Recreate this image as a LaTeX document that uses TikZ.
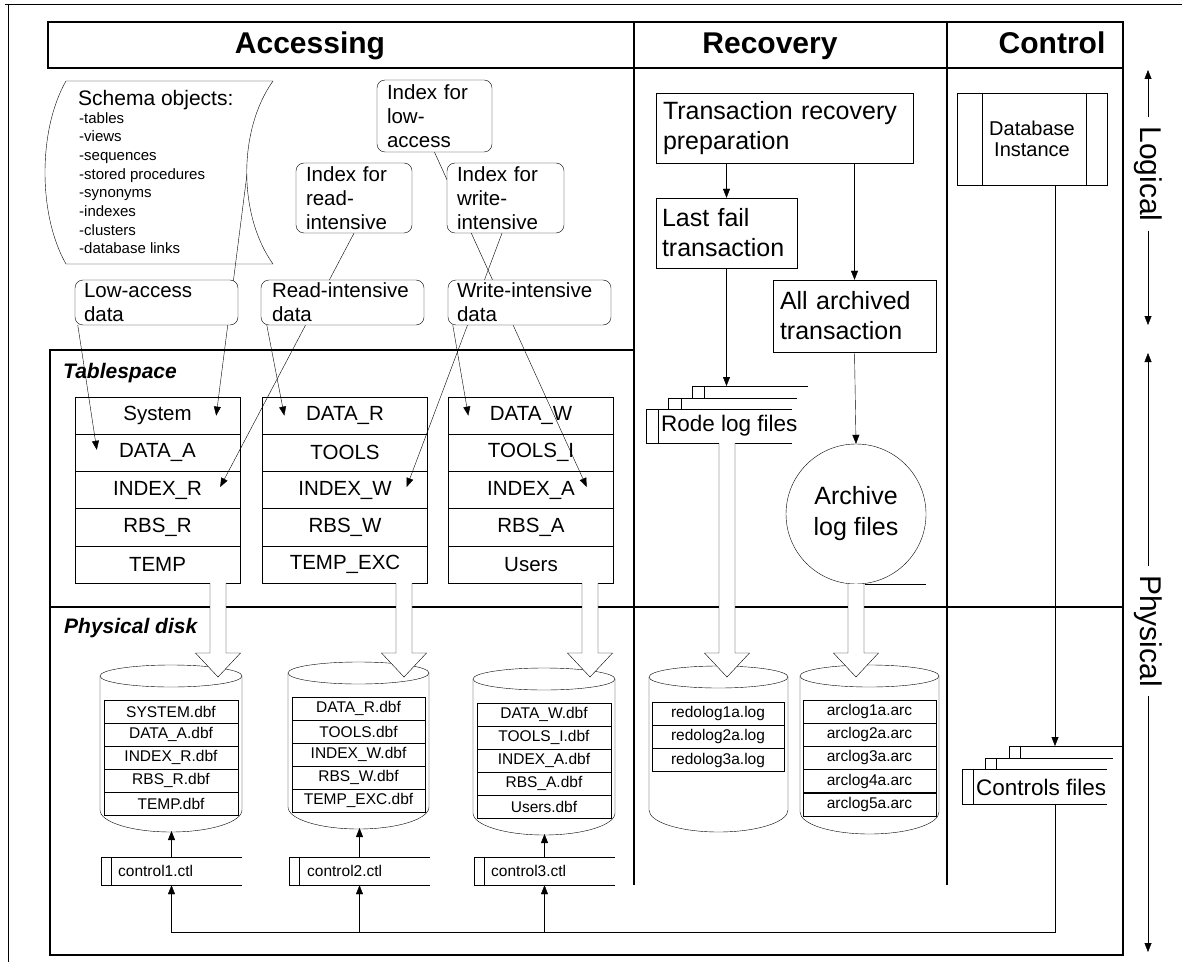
\documentclass[tikz,border=0pt]{standalone}
\usepackage{fontspec}
\setmainfont{Liberation Sans}
\usetikzlibrary{arrows.meta,calc}
\newcommand\fsz[2]{\fontsize{#1}{#2}\selectfont}
\pgfdeclarelayer{paper}
\pgfdeclarelayer{tables}
\pgfdeclarelayer{wires}
\pgfsetlayers{paper,tables,wires,main}

% wide hollow arrow: centre x, top y, tip y
\newcommand\hollowarrow[3]{%
  \draw[fill=white,line join=miter] (#1-8,#2) -- (#1-8,#3-24) -- (#1-22.5,#3-24)
    -- (#1,#3) -- (#1+22.5,#3-24) -- (#1+8,#3-24) -- (#1+8,#2);}
% disk cylinder: centre x, x radius, top centre y, side bottom y, bottom radius
\newcommand\dbcylinder[5]{%
  \draw[fill=white] (#1-#2,#3) -- (#1-#2,#4)
    arc[start angle=180,end angle=0,x radius=#2,y radius=#5] -- (#1+#2,#3);
  \draw[fill=white] (#1,#3) ellipse[x radius=#2,y radius=11];}
% data store open on the right
\newcommand\storeoutline[2]{%
  \draw (#1.north east) -- (#1.north west) -- (#1.south west) -- (#1.south east);
  \draw ([xshift=#2]#1.north west) -- ([xshift=#2]#1.south west);}

\begin{document}
\begin{tikzpicture}[x=1pt,y=-1pt,line width=1.5pt,
  arr/.style={-{Triangle[length=9pt,width=7pt]}},
  framel/.style={line width=1.8pt},
  rbox/.style={draw,rounded corners=8pt,fill=white,inner sep=0pt,align=left,font=\fsz{20.5}{24}},
  pbox/.style={draw,fill=white,inner sep=0pt,align=left,font=\fsz{25}{30}},
  tsrow/.style={draw,fill=white,minimum width=165pt,minimum height=37.2pt,inner sep=0pt,font=\fsz{20.5}{24}},
  crow/.style={draw,fill=white,minimum width=134pt,minimum height=23.1pt,inner sep=0pt,font=\fsz{15.5}{18}},
  hdr/.style={font=\fsz{30}{36}\bfseries,inner sep=0pt,anchor=base},
  sect/.style={font=\fsz{21}{25}\bfseries\itshape,anchor=west,inner sep=0pt},
  axislbl/.style={font=\fsz{30}{36},rotate=-90,inner sep=9pt},
  txt/.style={inner sep=0pt,anchor=west},
  store/.style={minimum width=141pt,minimum height=28pt,inner sep=0pt},
]
\useasboundingbox (0,0) rectangle (1182,965);
\begin{pgfonlayer}{paper}
\fill[white] (0,0) rectangle (1182,965);
\end{pgfonlayer}

% sheet edge
\draw[line width=1pt] (5,5) -- (1182,5);
\draw[line width=1pt] (8,5) -- (8,962);

% frame and columns
\draw[framel] (48,22) rectangle (1123,68);
\draw[framel] (634,22) -- (634,885);
\draw[framel] (947,22) -- (947,885);
\draw[framel] (1123,68) -- (1123,955) -- (50,955) -- (50,350) -- (634,350);
\draw[framel] (50,607) -- (1123,607);

\node[hdr] (hacc) at (310,53.5) {Accessing};
\node[hdr] (hrec) at (770,53.5) {Recovery};
\node[hdr] (hctl) at (1052,53.5) {Control};

\node[sect] (ts) at (63,373) {Tablespace};
\node[sect] (pd) at (64,628) {Physical disk};

% schema objects
\begin{pgfonlayer}{tables}
\draw[fill=white] (66,81) -- (273,81) .. controls (238,130) and (238,215) .. (273,264)
  -- (66,264) .. controls (38,215) and (38,130) .. (66,81) -- cycle;
\end{pgfonlayer}
\node[txt,font=\fsz{21}{25}] (schema) at (78,100) {Schema objects:};
\node[inner sep=0pt,anchor=north west,align=left,font=\fsz{15}{18.7}] (schemalist) at (79,112)
  {-tables\\-views\\-sequences\\-stored procedures\\-synonyms\\-indexes\\-clusters\\-database links};
\coordinate (schemaR) at (247,174);

% data and index groups
\node[rbox,minimum width=115pt,minimum height=72pt,text width=95pt] (idxlow) at (434.5,116) {Index for\\low-\\access};
\node[rbox,minimum width=116pt,minimum height=70pt,text width=96pt] (idxread) at (354,198) {Index for\\read-\\intensive};
\node[rbox,minimum width=117pt,minimum height=70pt,text width=97pt] (idxwrite) at (505.5,198) {Index for\\write-\\intensive};
\node[rbox,minimum width=163pt,minimum height=45pt,text width=145pt] (lowdata) at (156.5,302.5) {Low-access\\data};
\node[rbox,minimum width=163pt,minimum height=45pt,text width=141pt] (readdata) at (342.5,302.5) {Read-intensive\\data};
\node[rbox,minimum width=163pt,minimum height=45pt,text width=145pt] (writedata) at (529.5,302.5) {Write-intensive\\data};

% tablespaces
\begin{pgfonlayer}{tables}
\foreach \lab [count=\i from 0] in {System,DATA\_A,INDEX\_R,RBS\_R,TEMP}
  \node[tsrow] (t1r\i) at (157.5,415.6+37.2*\i) {\lab};
\foreach \lab [count=\i from 0] in {DATA\_R,TOOLS,INDEX\_W,RBS\_W,TEMP\_EXC}
  \node[tsrow] (t2r\i) at (345,415.6+37.2*\i) {\lab};
\foreach \lab [count=\i from 0] in {DATA\_W,TOOLS\_I,INDEX\_A,RBS\_A,Users}
  \node[tsrow] (t3r\i) at (531,415.6+37.2*\i) {\lab};
\end{pgfonlayer}

\begin{pgfonlayer}{wires}
\draw[arr] (schemaR) -- ([xshift=-24pt]t1r0.east);
\draw[arr] ([xshift=3pt]lowdata.south west) -- ([xshift=22pt,yshift=3pt]t1r1.west);
\draw[arr] (idxread.south) -- ([xshift=-20pt,yshift=3pt]t1r2.east);
\draw[arr] ([xshift=6pt]readdata.south west) -- ([xshift=22pt]t2r0.west);
\draw[arr] ([xshift=-3.5pt]idxwrite.south) -- ([xshift=-21pt,yshift=3pt]t2r2.east);
\draw[arr] ([xshift=5pt]writedata.south west) -- ([xshift=20pt]t3r0.west);
\draw[arr] (idxlow.south) -- ([xshift=-27pt,yshift=3pt]t3r2.east);
\end{pgfonlayer}

% recovery
\node[pbox,minimum width=257pt,minimum height=70pt,text width=243pt] (trprep) at (784.5,128) {Transaction recovery\\preparation};
\node[pbox,minimum width=141pt,minimum height=70pt,text width=129pt] (lastfail) at (726.5,233) {Last fail\\transaction};
\node[pbox,minimum width=163pt,minimum height=72pt,text width=149pt] (allarch) at (854.5,316) {All archived\\transaction};
\draw[arr] (lastfail.north |- trprep.south) -- (lastfail.north);
\draw[arr] (allarch.north |- trprep.south) -- (allarch.north);

\node[minimum width=146pt,minimum height=34pt,inner sep=0pt] (rode) at (719,426) {};
\storeoutline{rode}{12pt}
\draw (797,398) -- (668,398) -- (668,409) (681,398) -- (681,409);
\draw (808,386) -- (692,386) -- (692,398) (704,386) -- (704,398);
\node[txt,font=\fsz{22.5}{26}] (rodetxt) at (661,426) {Rode log files};
\coordinate (rodetop) at (726.5,386);
\draw[arr] (lastfail.south) -- (rodetop);

\node[draw,circle,fill=white,minimum size=140pt,inner sep=0pt,align=center,font=\fsz{25}{31}] (archive) at (856,514) {Archive\\log files};
\draw[arr] (allarch.south) -- (archive.north);
\draw ([xshift=9pt]archive.south) -- ([xshift=70pt]archive.south);

% control
\node[draw,minimum width=150pt,minimum height=92pt,inner sep=0pt,align=center,font=\fsz{20}{21}] (dbinst) at (1032,139) {Database\\Instance};
\draw ([xshift=25pt]dbinst.north west) -- ([xshift=25pt]dbinst.south west);
\draw ([xshift=-21pt]dbinst.north east) -- ([xshift=-21pt]dbinst.south east);

\node[minimum width=145pt,minimum height=35pt,inner sep=0pt] (cfiles) at (1034.5,786.5) {};
\storeoutline{cfiles}{11pt}
\draw (1113,758) -- (985,758) -- (985,769) (996,758) -- (996,769);
\draw (1123,746) -- (1009,746) -- (1009,758) (1020,746) -- (1020,758);
\node[txt,font=\fsz{22.5}{26}] (cfilestxt) at (976,787) {Controls files};
\coordinate (ctrlx) at (1055,0);
\coordinate (cfilestop) at (1055,746);
\draw[arr] (dbinst.south -| ctrlx) -- (cfilestop);

% physical disks
\dbcylinder{171}{71}{676}{810}{22}
\dbcylinder{358.5}{70.5}{673}{807}{22}
\dbcylinder{544}{71}{679}{813}{22}
\dbcylinder{718.5}{69.5}{677}{810}{22}
\dbcylinder{869.5}{69.5}{676}{812}{22}

\foreach \lab [count=\i from 0] in {SYSTEM.dbf,DATA\_A.dbf,INDEX\_R.dbf,RBS\_R.dbf,TEMP.dbf}
  \node[crow] (c1r\i) at (171,711.5+23.1*\i) {\lab};
\foreach \lab [count=\i from 0] in {DATA\_R.dbf,TOOLS.dbf,INDEX\_W.dbf,RBS\_W.dbf,TEMP\_EXC.dbf}
  \node[crow,minimum width=133pt] (c2r\i) at (358.5,708.5+23.1*\i) {\lab};
\foreach \lab [count=\i from 0] in {DATA\_W.dbf,TOOLS\_I.dbf,INDEX\_A.dbf,RBS\_A.dbf,Users.dbf}
  \node[crow] (c3r\i) at (544,714.5+23.1*\i) {\lab};
\foreach \lab [count=\i from 0] in {redolog1a.log,redolog2a.log,redolog3a.log}
  \node[crow,minimum width=132pt] (c4r\i) at (718,713.5+23.3*\i) {\lab};
\foreach \lab [count=\i from 0] in {arclog1a.arc,arclog2a.arc,arclog3a.arc,arclog4a.arc,arclog5a.arc}
  \node[crow,minimum width=133pt] (c5r\i) at (869.5,711.5+23.2*\i) {\lab};

\hollowarrow{218}{583}{677}
\hollowarrow{404}{583}{677}
\hollowarrow{590}{583}{677}
\hollowarrow{727}{443}{677}
\hollowarrow{856}{584}{677}

% control files
\node[store] (ctl1) at (171.5,871) {};
\node[store] (ctl2) at (359.5,871) {};
\node[store] (ctl3) at (544.5,871) {};
\storeoutline{ctl1}{10pt}
\storeoutline{ctl2}{10pt}
\storeoutline{ctl3}{10pt}
\node[txt,font=\fsz{15.5}{18}] (ctl1t) at (118,871) {control1.ctl};
\node[txt,font=\fsz{15.5}{18}] (ctl2t) at (307,871) {control2.ctl};
\node[txt,font=\fsz{15.5}{18}] (ctl3t) at (491,871) {control3.ctl};
\coordinate (cyl1b) at (171,831);
\coordinate (cyl2b) at (358.5,828);
\coordinate (cyl3b) at (544,834);
\draw[arr] (ctl1.north) -- (ctl1.north |- cyl1b);
\draw[arr] (ctl2.north) -- (ctl2.north |- cyl2b);
\draw[arr] (ctl3.north) -- (ctl3.north |- cyl3b);
\coordinate (busy) at (0,932);
\draw[arr] (cfiles.south -| ctrlx) |- (ctl1.south |- busy) -- (ctl1.south);
\draw[arr] (ctl2.south |- busy) -- (ctl2.south);
\draw[arr] (ctl3.south |- busy) -- (ctl3.south);

% logical / physical scale
\node[axislbl] (logical) at (1148,174) {Logical};
\node[axislbl] (physical) at (1148,631) {Physical};
\coordinate (logtop) at (1148,70);
\coordinate (logbot) at (1148,325);
\coordinate (phytop) at (1148,353);
\coordinate (phybot) at (1148,952);
\draw[arr] (logical.west) -- (logtop);
\draw[arr] (logical.east) -- (logbot);
\draw[arr] (physical.west) -- (phytop);
\draw[arr] (physical.east) -- (phybot);
\end{tikzpicture}
\end{document}
